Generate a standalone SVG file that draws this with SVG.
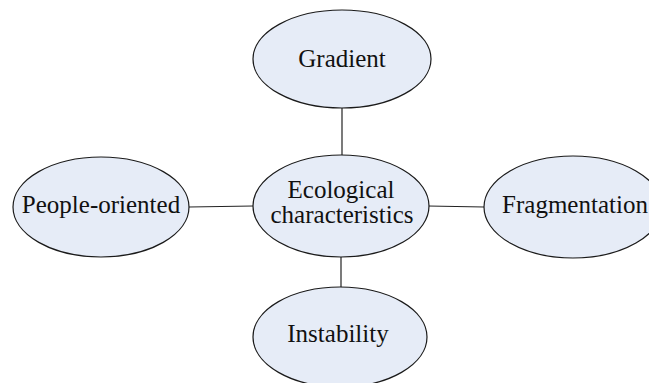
<svg xmlns="http://www.w3.org/2000/svg" width="649" height="383" viewBox="0 0 649 383">
<style>
.node ellipse{fill:#e6ecf7;stroke:#1a1a1a;stroke-width:1.2}
.node text{font-family:"Liberation Serif","Times New Roman",serif;font-size:25px;fill:#111;text-anchor:middle}
.edges line{stroke:#222;stroke-width:1.2}
</style>
<rect width="649" height="383" fill="#fff"/>
<g class="edges">
<line x1="342" y1="108" x2="342" y2="155"/>
<line x1="341" y1="256" x2="341" y2="288"/>
<line x1="189" y1="207" x2="253" y2="206"/>
<line x1="428" y1="206" x2="484" y2="207"/>
</g>
<g id="gradient" class="node"><ellipse cx="342" cy="59" rx="89" ry="49"/><text x="342" y="67">Gradient</text></g>
<g id="ecological" class="node"><ellipse cx="341" cy="206" rx="88" ry="51"/><text x="341" y="198">Ecological</text><text x="342" y="223">characteristics</text></g>
<g id="people" class="node"><ellipse cx="101" cy="207" rx="88" ry="50"/><text x="101" y="213">People-oriented</text></g>
<g id="fragmentation" class="node"><ellipse cx="573" cy="207" rx="89" ry="51"/><text x="575" y="213">Fragmentation</text></g>
<g id="instability" class="node"><ellipse cx="340" cy="337" rx="87" ry="50"/><text x="338" y="342">Instability</text></g>
</svg>
